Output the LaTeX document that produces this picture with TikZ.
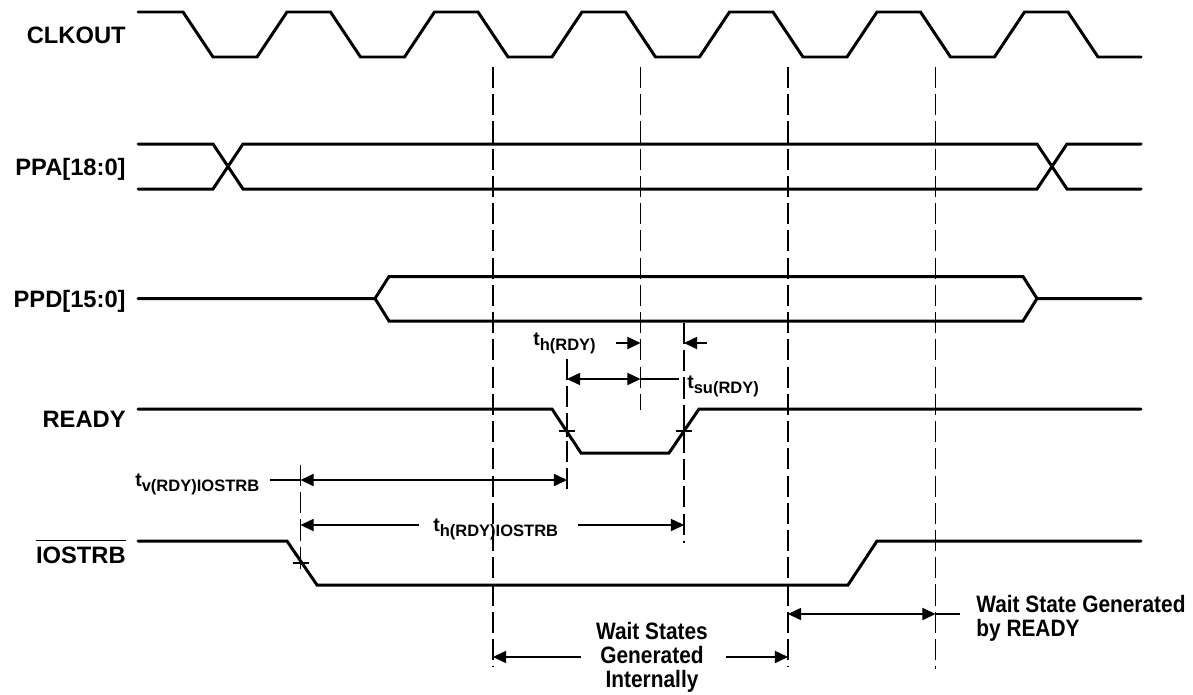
\documentclass[tikz,border=0pt]{standalone}
\usepackage{fontspec}
\setmainfont{Liberation Sans}
\newfontfamily\narrowfont[FakeStretch=0.88]{Liberation Sans}
\usetikzlibrary{arrows.meta}

\newcommand{\sig}[1]{{\fontsize{13.5}{14}\selectfont\bfseries #1}}
\newcommand{\ovl}[1]{\vbox{\hrule height 0.6pt\kern 3pt\hbox{#1}}}
\newcommand{\tsub}[1]{{\fontsize{11}{11}\selectfont\bfseries t}\raisebox{-3.4pt}{\fontsize{9.4}{9.4}\selectfont\bfseries #1}}

\begin{document}
\begin{tikzpicture}[x=0.02cm, y=-0.02cm, >={Triangle[length=7.5pt,width=7pt]},
   wave/.style={line width=1.7pt, line cap=round, line join=miter},
   guide/.style={line width=0.6pt, dash pattern=on 12pt off 3.5pt},
   dim/.style={line width=0.6pt},
   siglabel/.style={anchor=base east, inner sep=0pt},
   tlabel/.style={anchor=base west, inner sep=0pt},
   note/.style={inner sep=0pt, font=\fontsize{13.5}{13.7}\selectfont\narrowfont\bfseries}
   ]
   \useasboundingbox (0,0) rectangle (1193,694);

   % signal names
   \node[siglabel] (clk) at (126,43) {\sig{CLKOUT}};
   \node[siglabel] (ppa) at (126,175) {\sig{PPA[18:0]}};
   \node[siglabel] (ppd) at (126,307) {\sig{PPD[15:0]}};
   \node[siglabel] (rdy) at (126,427) {\sig{READY}};
   \node[siglabel] (iostrb) at (126,563) {\sig{\ovl{IOSTRB}}};

   % waveforms
   \draw[wave] (138,12) foreach \k in {0,...,5} {
      -- ({183+147.5*\k},12) -- ({213+147.5*\k},57) -- ({257+147.5*\k},57) -- ({287+147.5*\k},12)}
      -- (1068,12) -- (1098,57) -- (1141,57);
   \draw[wave] (138,144) -- (213,144) -- (243,189) -- (1037,189) -- (1067,144) -- (1141,144);
   \draw[wave] (138,189) -- (213,189) -- (243,144) -- (1037,144) -- (1067,189) -- (1141,189);
   \draw[wave] (138,298.5) -- (375,298.5) -- (389,276.5) -- (1023,276.5) -- (1037,298.5) -- (1141,298.5);
   \draw[wave] (375,298.5) -- (389,321) -- (1023,321) -- (1037,298.5);
   \draw[wave] (138,409) -- (552,409) -- (581,453) -- (669,453) -- (699,409) -- (1141,409);
   \draw[wave] (138,541) -- (287,541) -- (317,585) -- (848,585) -- (877,541) -- (1141,541);

   % reference lines
   \path (493,67) coordinate (g1t) (493,667) coordinate (g1b)
   (640.5,67) coordinate (g2t) (640.5,410) coordinate (g2b);
   \path (788,67) coordinate (g3t) (788,667) coordinate (g3b)
   (935.5,67) coordinate (g4t) (935.5,669) coordinate (g4b);
   \path (567,359) coordinate (g5t) (567,495) coordinate (g5b)
   (684,323) coordinate (g6t) (684,543) coordinate (g6b);
   \path (300.5,465) coordinate (g7t) (300.5,570) coordinate (g7b);
   \foreach \g in {1,...,7}
      \draw[guide] (g\g t) -- (g\g b);

   \foreach \x/\y in {567/431, 684/431, 300.5/563}
      \draw[dim] (\x-8,\y) -- (\x+8,\y) (\x,\y-6) -- (\x,\y+6);

   % timing labels
   \node[tlabel] (thr) at (533,345) {\tsub{h(RDY)}};
   \node[tlabel] (tsr) at (687,388) {\tsub{su(RDY)}};
   \node[tlabel] (tvi) at (135,486) {\tsub{v(RDY)IOSTRB}};
   \node[tlabel] (thi) at (433,531) {\tsub{h(RDY)IOSTRB}};

   \path (616,343) coordinate (a1) (640.5,343) coordinate (b1)
   (707,343) coordinate (a2) (684,343) coordinate (b2);
   \path (567,379) coordinate (a3) (640.5,379) coordinate (b3) (679,379) coordinate (c3);
   \path (270,480) coordinate (a4) (300.5,480) coordinate (b4) (567,480) coordinate (c4);
   \path (419,525) coordinate (a5) (300.5,525) coordinate (b5)
   (578,525) coordinate (c5) (684,525) coordinate (d5);
   \path (581,657) coordinate (a6) (493,657) coordinate (b6)
   (726,657) coordinate (c6) (788,657) coordinate (d6);
   \path (788,614) coordinate (a7) (935.5,614) coordinate (b7) (960,614) coordinate (c7);

   \draw[dim,->] (a1) -- (b1);
   \draw[dim,->] (a2) -- (b2);
   \draw[dim,<->] (a3) -- (b3);
   \draw[dim] (b3) -- (c3);
   \draw[dim] (a4) -- (b4);
   \draw[dim,<->] (b4) -- (c4);
   \draw[dim,->] (a5) -- (b5);
   \draw[dim,->] (c5) -- (d5);
   \draw[dim,->] (a6) -- (b6);
   \draw[dim,->] (c6) -- (d6);
   \draw[dim,<->] (a7) -- (b7);
   \draw[dim] (b7) -- (c7);

   % notes
   \node[note, align=center] (internal) at (652,657) {Wait States\\Generated\\Internally};
   \node[note, align=left, anchor=west] (byready) at (976,618) {Wait State Generated\\by READY};

\end{tikzpicture}
\end{document}
